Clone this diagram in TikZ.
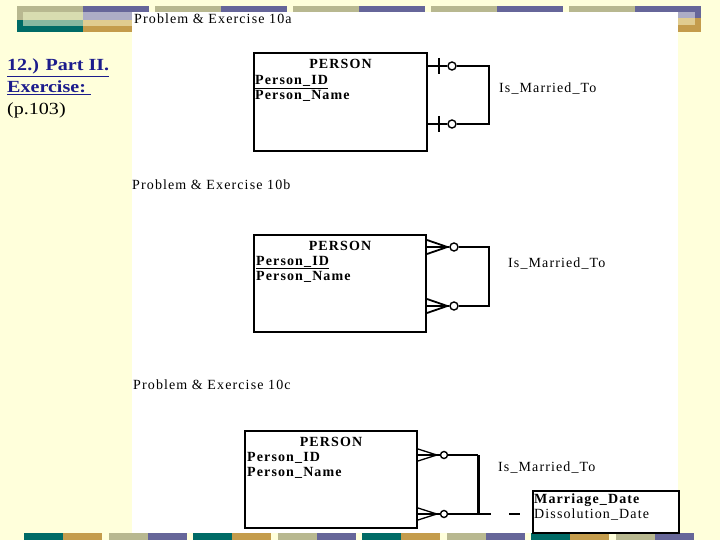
\documentclass[tikz,border=0pt]{standalone}
\usepackage{fontspec,graphicx}
\setmainfont{Liberation Serif}
\newfontfamily\diafont[LetterSpace=8]{Liberation Serif}
\usetikzlibrary{calc,positioning}
\definecolor{slbg}{HTML}{FFFFDB}
\definecolor{slolive}{HTML}{B8B890}
\definecolor{slolivelt}{HTML}{D8DCB0}
\definecolor{slpurple}{HTML}{666699}
\definecolor{slpurplelt}{HTML}{ADADC6}
\definecolor{slteal}{HTML}{006B66}
\definecolor{slteallt}{HTML}{88B8A0}
\definecolor{sltan}{HTML}{C49C4C}
\definecolor{sltanlt}{HTML}{E0CC90}
\definecolor{slnavy}{HTML}{1C1C8C}

\begin{document}
\begin{tikzpicture}[x=1pt,y=-1pt,
    ent/.style={draw,line width=2pt,inner sep=0pt},
    dtxt/.style={font=\diafont\fontsize{14}{16}\selectfont,inner sep=0pt,anchor=base west},
    dbold/.style={dtxt,font=\diafont\bfseries\fontsize{14}{16}\selectfont},
    conn/.style={line width=1.8pt},
    thinconn/.style={line width=1.3pt},
    ring/.style={circle,draw,line width=1.4pt,fill=white,minimum size=8pt,inner sep=0pt},
    side/.style={font=\fontsize{17}{20}\selectfont,inner sep=0pt,anchor=base west}]
  \useasboundingbox (0,0) rectangle (720,540);
  \fill[slbg] (0,0) rectangle (720,540);

  % slide strips
  \foreach \i in {0,...,4}{
    \fill[slolive] ({17+138*\i},6) rectangle ++(66,6);
    \fill[slpurple] ({83+138*\i},6) rectangle ++(66,6);
  }
  \fill[slolive] (17,6) rectangle (83,20);
  \fill[slolivelt] (23,12) rectangle (83,20);
  \fill[slteal] (17,20) rectangle (83,32);
  \fill[slteallt] (23,20) rectangle (83,26);
  \fill[slpurplelt] (83,12) rectangle (132,20);
  \fill[sltanlt] (83,20) rectangle (132,26);
  \fill[sltan] (83,26) rectangle (132,32);
  \fill[slpurple] (635,6) rectangle (701,18);
  \fill[slpurplelt] (635,12) rectangle (695,18);
  \fill[sltan] (635,18) rectangle (701,32);
  \fill[sltanlt] (635,18) rectangle (695,25);
  \foreach \i in {0,2,4,6}{
    \fill[slteal] ({24+84.5*\i},533) rectangle ++(39,7);
    \fill[sltan] ({63+84.5*\i},533) rectangle ++(39,7);
  }
  \foreach \i in {1,3,5,7}{
    \fill[slolive] ({24+84.5*\i},533) rectangle ++(39,7);
    \fill[slpurple] ({63+84.5*\i},533) rectangle ++(39,7);
  }
  \fill[white] (132,12) rectangle (678,533);

  % left caption
  \node[side] (cap1) at (7,71) {\scalebox{1.18}[1]{\color{slnavy}\bfseries\underline{12.) Part II.}}};
  \node[side] (cap2) at (7,93) {\scalebox{1.18}[1]{\color{slnavy}\bfseries\underline{Exercise:~}}};
  \node[side] (cap3) at (7,115) {\scalebox{1.18}[1]{(p.103)}};

  % 10a
  \node[dtxt] (ta) at (134,24) {Problem \& Exercise 10a};
  \node[ent,anchor=north west,minimum width=173pt,minimum height=98pt] (pa) at (253,52) {};
  \node[dbold,anchor=base] (pa-n) at ($(pa.north)+(0,17)$) {PERSON};
  \node[dbold] (pa-id) at ($(pa.north west)+(2,33)$) {\underline{Person\_ID}};
  \node[dbold] (pa-nm) at ($(pa.north west)+(2,48)$) {Person\_Name};
  \coordinate (a1) at ($(pa.north east)+(0,14)$);
  \coordinate (a2) at ($(pa.north east)+(0,72)$);
  \coordinate (a1k) at ($(a1)+(61,0)$);
  \coordinate (a2k) at ($(a2)+(61,0)$);
  \node[ring] (a1o) at ($(a1)+(24,0)$) {};
  \node[ring] (a2o) at ($(a2)+(24,0)$) {};
  \draw[conn] (a1) -- (a1o);
  \draw[conn] (a2) -- (a2o);
  \draw[conn] ($(a1)+(11,-8)$) -- ++(0,16);
  \draw[conn] ($(a2)+(11,-8)$) -- ++(0,16);
  \draw[conn] (a1o) -- (a1k) -- (a2k) -- (a2o);
  \node[dtxt] (ra) at ($(a1k)+(10,27)$) {Is\_Married\_To};

  % 10b
  \node[dtxt] (tb) at (132,190) {Problem \& Exercise 10b};
  \node[ent,anchor=north west,minimum width=172pt,minimum height=97pt] (pb) at (253,234) {};
  \node[dbold,anchor=base] (pb-n) at ($(pb.north)+(0,16)$) {PERSON};
  \node[dbold] (pb-id) at ($(pb.north west)+(3,31)$) {\underline{Person\_ID}};
  \node[dbold] (pb-nm) at ($(pb.north west)+(3,46)$) {Person\_Name};
  \coordinate (b1) at ($(pb.north east)+(0,13)$);
  \coordinate (b2) at ($(pb.north east)+(0,72)$);
  \coordinate (b1k) at ($(b1)+(62,0)$);
  \coordinate (b2k) at ($(b2)+(62,0)$);
  \node[ring] (b1o) at ($(b1)+(27,0)$) {};
  \node[ring] (b2o) at ($(b2)+(27,0)$) {};
  \draw[conn] (b1) -- (b1o);
  \draw[conn] (b2) -- (b2o);
  \draw[conn] ($(b1)+(0,-7)$) -- ($(b1o.west)+(-2,0)$) -- ($(b1)+(0,7)$);
  \draw[conn] ($(b2)+(0,-7)$) -- ($(b2o.west)+(-2,0)$) -- ($(b2)+(0,7)$);
  \draw[conn] (b1o) -- (b1k) -- (b2k) -- (b2o);
  \node[dtxt] (rb) at ($(b1k)+(19,20)$) {Is\_Married\_To};

  % 10c
  \node[dtxt] (tc) at (133,389) {Problem \& Exercise 10c};
  \node[ent,anchor=north west,minimum width=172pt,minimum height=97pt] (pc) at (244,430) {};
  \node[dbold,anchor=base] (pc-n) at ($(pc.north)+(0,16)$) {PERSON};
  \node[dbold] (pc-id) at ($(pc.north west)+(3,31)$) {Person\_ID};
  \node[dbold] (pc-nm) at ($(pc.north west)+(3,46)$) {Person\_Name};
  \node[draw,line width=1.6pt,inner sep=0pt,anchor=north west,minimum width=146pt,minimum height=42pt] (mc) at (532,490) {};
  \node[dbold] (mc-md) at ($(mc.north west)+(2,13)$) {Marriage\_Date};
  \node[dtxt] (mc-dd) at ($(mc.north west)+(2,28)$) {Dissolution\_Date};
  \coordinate (c1) at ($(pc.north east)+(0,25)$);
  \coordinate (c2) at ($(pc.north east)+(0,84)$);
  \coordinate (c1k) at ($(c1)+(60,0)$);
  \coordinate (c2k) at ($(c2)+(60,0)$);
  \node[ring,minimum size=7pt] (c1o) at ($(c1)+(26,0)$) {};
  \node[ring,minimum size=7pt] (c2o) at ($(c2)+(26,0)$) {};
  \draw[thinconn] (c1) -- (c1o);
  \draw[thinconn] (c2) -- (c2o);
  \draw[thinconn] ($(c1)+(0,-6)$) -- ($(c1o.west)+(-3,0)$) -- ($(c1)+(0,6)$);
  \draw[thinconn] ($(c2)+(0,-6)$) -- ($(c2o.west)+(-3,0)$) -- ($(c2)+(0,6)$);
  \draw[thinconn] (c1o) -- (c1k);
  \draw[thinconn] (c2o) -- (c2k);
  \draw[line width=3pt] (c1k) -- (c2k);
  \draw[thinconn,dash pattern=on 13pt off 18pt on 11pt off 30pt] (c2k) -- (mc.west |- c2k);
  \node[dtxt] (rc) at ($(c1k)+(20,16)$) {Is\_Married\_To};
\end{tikzpicture}
\end{document}
